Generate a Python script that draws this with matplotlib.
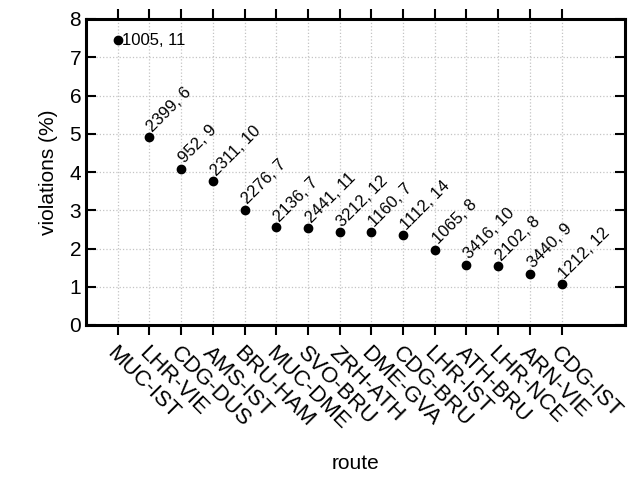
import matplotlib
matplotlib.use('Agg')
import matplotlib.pyplot as plt

plt.rcParams['font.family'] = ['Liberation Sans', 'DejaVu Sans']

routes = ['MUC-IST', 'LHR-VIE', 'CDG-DUS', 'AMS-IST', 'BRU-HAM', 'MUC-DME',
          'SVO-BRU', 'ZRH-ATH', 'DME-GVA', 'CDG-BRU', 'LHR-IST', 'ATH-BRU',
          'LHR-NCE', 'ARN-VIE', 'CDG-IST']
violations = [7.45, 4.91, 4.08, 3.76, 3.01, 2.56, 2.53, 2.43, 2.42, 2.34,
              1.97, 1.58, 1.54, 1.34, 1.06]
point_labels = ['1005, 11', '2399, 6', '952, 9', '2311, 10', '2276, 7',
                '2136, 7', '2441, 11', '3212, 12', '1160, 7', '1112, 14',
                '1065, 8', '3416, 10', '2102, 8', '3440, 9', '1212, 12']

x = list(range(1, len(violations) + 1))

fig = plt.figure(figsize=(6.41, 4.84), dpi=100)
ax = fig.add_axes([86 / 641, 1 - 325 / 484, (625 - 86) / 641, (325 - 19) / 484])

ax.plot(x, violations, 'o', color='black', ms=6)

for i, (xi, yi, lab) in enumerate(zip(x, violations, point_labels)):
    if i == 0:
        ax.annotate(lab, (xi, yi), xytext=(3, 0), textcoords='offset points',
                    ha='left', va='center', fontsize=12)
    else:
        ax.annotate(lab, (xi, yi), xytext=(4, 2), textcoords='offset points',
                    ha='left', va='bottom', rotation=45, rotation_mode='anchor',
                    fontsize=12)

ax.set_xlim(0, 17)
ax.set_ylim(0, 8)
ax.set_xticks(x)
ax.set_xticklabels(routes, rotation=-45, ha='left', va='top',
                   rotation_mode='anchor', fontsize=16)
ax.set_yticks(range(0, 9))
ax.tick_params(axis='y', labelsize=15, direction='in', left=True, right=True,
               length=7, width=1.5)
ax.tick_params(axis='x', direction='out', bottom=True, top=True,
               length=7, width=1.5, pad=6)
for s in ax.spines.values():
    s.set_linewidth(2.2)

ax.grid(True, color='#c4c4c4', linestyle=':', linewidth=0.9)
ax.set_axisbelow(True)

ax.set_xlabel('route', fontsize=15, labelpad=14)
ax.set_ylabel('violations (%)', fontsize=15, labelpad=8)

plt.savefig('out.png', dpi=100)
